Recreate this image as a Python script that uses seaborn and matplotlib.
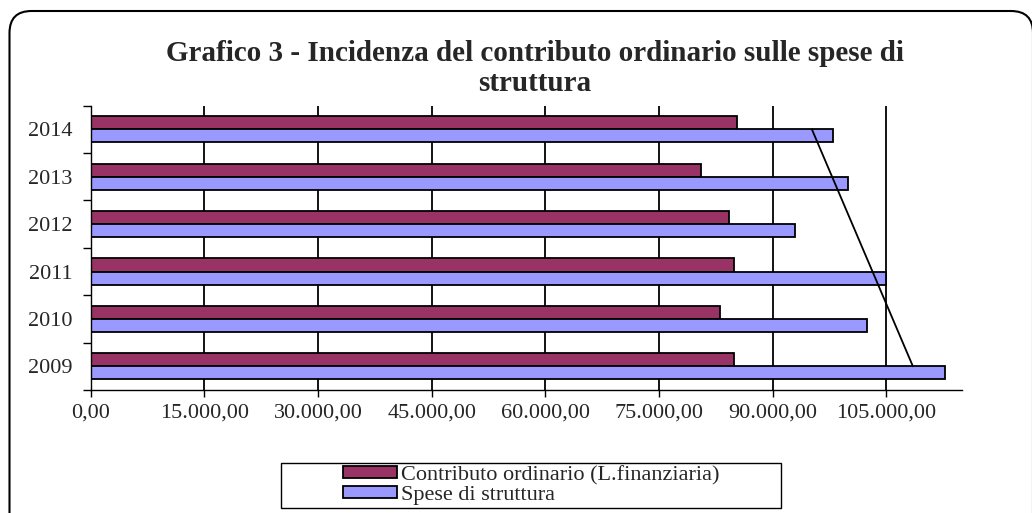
import numpy as np
import pandas as pd
import matplotlib
matplotlib.use('Agg')
import matplotlib.pyplot as plt
import seaborn as sns
from matplotlib.patches import FancyBboxPatch, Rectangle, Patch

# dati
anni = ['2014', '2013', '2012', '2011', '2010', '2009']
contributo = [85300, 80600, 84300, 84900, 83000, 84900]
spese = [98000, 100000, 92900, 105000, 102400, 112800]
serie = ['Contributo ordinario (L.finanziaria)', 'Spese di struttura']
colori = ['#993366', '#9999FF']
xticks = [0, 15000, 30000, 45000, 60000, 75000, 90000, 105000]

df = pd.DataFrame({
    'anno': anni * 2,
    'valore': contributo + spese,
    'serie': [serie[0]] * len(anni) + [serie[1]] * len(anni),
})

sns.set_theme(style='white')
plt.rcParams['font.family'] = ['Liberation Serif', 'DejaVu Serif']

fig = plt.figure(figsize=(10.32, 5.13), dpi=100)
ax = fig.add_axes([0.0879, 0.2398, 0.8443, 0.5542])

sns.barplot(data=df, y='anno', x='valore', hue='serie', order=anni,
            hue_order=serie, palette=colori, saturation=1, width=0.55,
            edgecolor='black', linewidth=1.3, errorbar=None, legend=False,
            orient='h', ax=ax)

# linea di tendenza lineare sulle spese
pos = np.arange(len(anni))
fit = np.polyfit(pos, spese, 1)
estremi = [pos[0], pos[-1]]
ax.plot(np.polyval(fit, estremi), estremi, color='black', lw=1.3, zorder=5)

ax.set_xlim(0, 115000)
ax.set_ylim(len(anni) - 0.5, -0.5)
ax.set_xlabel('')
ax.set_ylabel('')

def fmt(v):
    return f"{v:,.2f}".replace(',', 'X').replace('.', ',').replace('X', '.')

ax.set_xticks(xticks)
ax.set_xticklabels([fmt(v) for v in xticks])
ax.xaxis.grid(True, color='black', lw=1.3)
ax.set_axisbelow(True)
ax.tick_params(axis='x', bottom=True, direction='out', length=5, width=1,
               color='black', labelsize=16, pad=5)
ax.set_yticks(np.arange(-0.5, len(anni), 1), minor=True)
ax.tick_params(axis='y', which='minor', left=True, length=6, width=1, color='black')
ax.tick_params(axis='y', which='major', left=False, labelsize=16, pad=7)

for s in ['top', 'right']:
    ax.spines[s].set_visible(False)
for s in ['left', 'bottom']:
    ax.spines[s].set_color('black')
    ax.spines[s].set_linewidth(1.0)

fig.text(535 / 1032, 1 - 68.5 / 513,
         'Grafico 3 - Incidenza del contributo ordinario sulle spese di\nstruttura',
         ha='center', va='center', fontsize=21, fontweight='bold', linespacing=1.12)

# legenda con cornice separata
fig.add_artist(Rectangle((281 / 1032, 1 - 508 / 513), 500 / 1032, 45.3 / 513,
                         transform=fig.transFigure, fill=False, ec='black', lw=1.0))
maniglie = [Patch(facecolor=c, edgecolor='black', lw=1.3) for c in colori]
fig.legend(maniglie, serie, loc='center left',
           bbox_to_anchor=(343 / 1032, 1 - 485.5 / 513), frameon=False, fontsize=16,
           handlelength=2.45, handleheight=0.45, handletextpad=0.15,
           labelspacing=0.05, borderpad=0, borderaxespad=0)

# bordo arrotondato esterno
fig.add_artist(FancyBboxPatch((0.095, -0.3), 10.235, 5.32,
                              boxstyle='round,pad=0,rounding_size=0.22',
                              transform=fig.dpi_scale_trans, fill=False,
                              ec='black', lw=1.5, clip_on=False))

fig.savefig('out.png', dpi=100)
